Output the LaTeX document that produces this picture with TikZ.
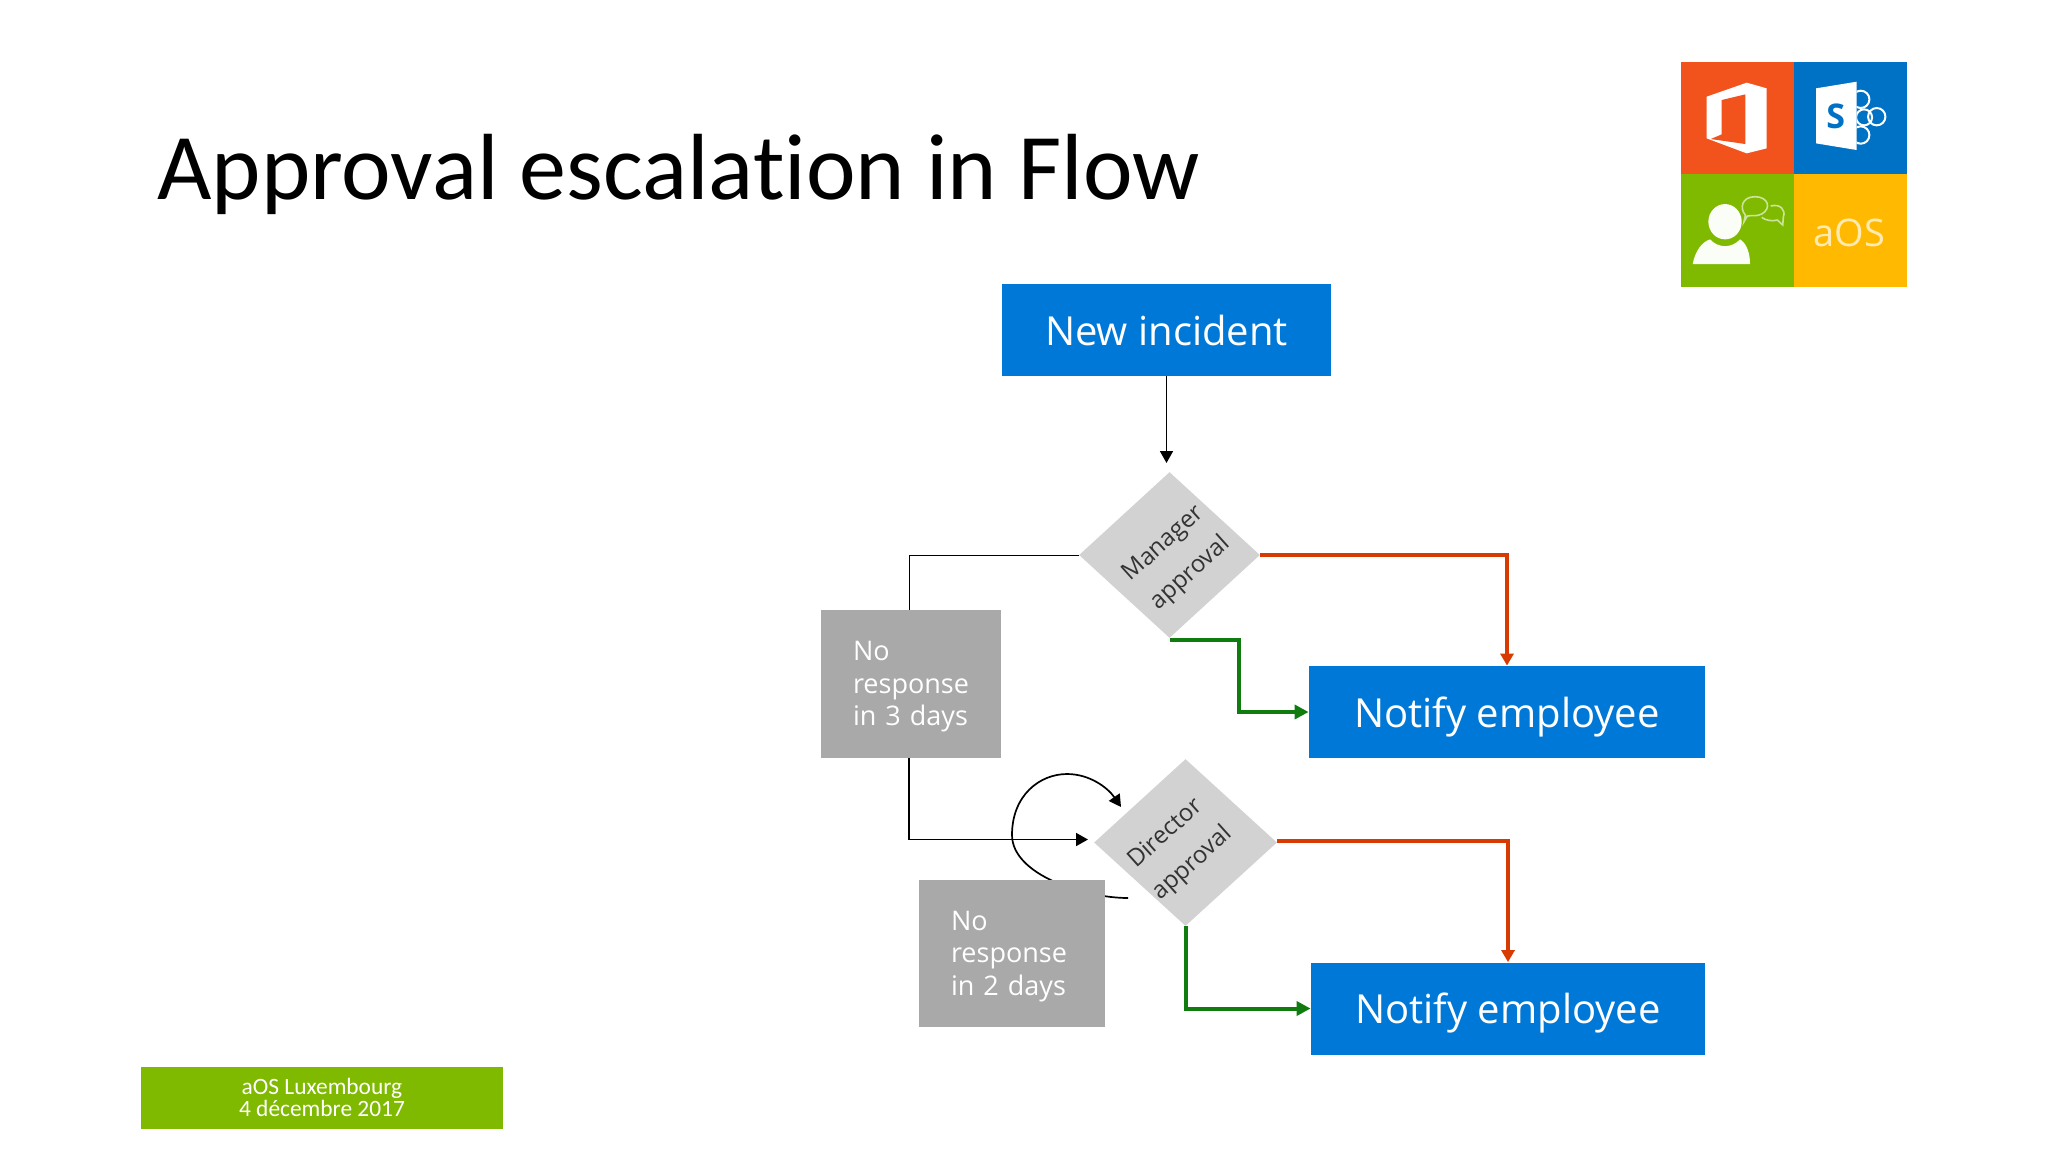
\documentclass[tikz,border=0pt]{standalone}
\usepackage{fontspec}
\setmainfont{Open Sans}
\newfontfamily\slidefont[Ligatures=NoCommon]{Carlito}
\usetikzlibrary{arrows.meta,shapes.geometric}

\definecolor{flowblue}{HTML}{0078D7}
\definecolor{waitgray}{HTML}{A9A9A9}
\definecolor{gategray}{HTML}{D2D2D2}
\definecolor{rejectred}{HTML}{D83B01}
\definecolor{acceptgreen}{HTML}{107C10}
\definecolor{footgreen}{HTML}{7FBA00}
\definecolor{logored}{HTML}{F2521C}
\definecolor{logoblue}{HTML}{0072C6}
\definecolor{logoyellow}{HTML}{FFB900}

\tikzset{
	bluebox/.style={fill=flowblue, text=white, inner sep=0pt, text depth=0pt, font=\fontsize{20}{24}\selectfont},
	waitbox/.style={fill=waitgray, text=white, inner ysep=0pt, inner xsep=16pt, align=left, font=\fontsize{13.5}{16.3}\selectfont, execute at begin node={\rule{0pt}{12.6pt}}},
	gate/.style={diamond, fill=gategray, inner sep=0pt},
	gatetext/.style={rotate=42, align=center, text=black!80, inner sep=0pt, font=\fontsize{12}{20}\selectfont},
	thinflow/.style={black, line width=0.5pt},
	flowarrow/.style={black, line width=0.85pt, -{Triangle[length=6pt,width=6.5pt]}},
	reject/.style={rejectred, line width=2pt, -{Triangle[length=6pt,width=6.5pt]}},
	accept/.style={acceptgreen, line width=2pt, -{Triangle[length=7pt,width=7pt]}},
}

\begin{document}
\begin{tikzpicture}[x=0.5pt, y=-0.5pt]
	\useasboundingbox (0,0) rectangle (2048,1152);

	\node[anchor=base west, inner sep=0pt, font=\slidefont\fontsize{47}{54}\selectfont] (title) at (157,199) {Approval escalation in Flow};

	\node[bluebox, minimum width=164.5pt, minimum height=46pt] (new) at (1166.5,330) {New incident};
	\node[bluebox, minimum width=198pt, minimum height=46pt] (notifya) at (1507,712) {Notify employee};
	\node[bluebox, minimum width=197pt, minimum height=46pt] (notifyb) at (1508,1008.5) {Notify employee};

	\node[gate, minimum width=90.5pt, minimum height=83pt] (manager) at (1169.5,555) {};
	\node[gatetext] (managertext) at (1177.5,559) {Manager\\approval};
	\node[gate, minimum width=91.5pt, minimum height=83.5pt] (director) at (1185.5,842.5) {};
	\node[gatetext] (directortext) at (1179.5,849) {Director\\approval};

	\node[waitbox, text width=58pt, minimum height=74pt] (noresponsea) at (911,684) {No\\response\\in 3 days};

	\coordinate (managertop) at (1170,463);
	\coordinate (directorleft) at (1088,839.5);
	\coordinate (loopstart) at (1128,898);
	\coordinate (loopend) at (1121,807);

	\draw[flowarrow] (new.south) -- (new.south |- managertop);
	\draw[thinflow] (manager.west) -| ([xshift=-1pt]noresponsea.north);
	\draw[flowarrow] ([xshift=-1pt]noresponsea.south) |- (directorleft);
	\draw[reject] (manager.east) -| (notifya.north);
	\draw[accept] ([yshift=-1pt]manager.south) -- ++(69,0) |- (notifya.west);
	\draw[reject] ([yshift=1pt]director.east) -| (notifyb.north);
	\draw[accept] (director.south) |- (notifyb.west);
	\draw[flowarrow] (loopstart) .. controls (1085,898) and (1012,875) .. (1012,835)
		.. controls (1012,795) and (1040,774) .. (1067,774)
		.. controls (1090,774) and (1108,788) .. (loopend);

	\node[waitbox, text width=61pt, minimum height=73.5pt] (noresponseb) at (1012,953.5) {No\\response\\in 2 days};

	\node[fill=footgreen, text=white, inner sep=0pt, minimum width=181pt, minimum height=31pt, align=center, font=\slidefont\fontsize{11.7}{11}\selectfont] (footer) at (322,1097.5) {aOS Luxembourg\\4 décembre 2017};

	% logo
	\fill[logored] (1681,62) rectangle (1794,174);
	\fill[logoblue] (1794,62) rectangle (1907,174);
	\fill[footgreen] (1681,174) rectangle (1794,287);
	\fill[logoyellow] (1794,174) rectangle (1907,287);
	\begin{scope}[shift={(1640,40)}, x=0.1667pt, y=-0.1667pt]
		\fill[white] (200,170) -- (320,128) -- (380,145) -- (380,325) -- (320,340) -- (200,295) -- cycle;
		\fill[logored] (245,180) -- (316,163) -- (316,312) -- (212,297) -- (245,283) -- cycle;
		\begin{scope}
			\clip (650,100) rectangle (760,340);
			\foreach \cx/\cy in {662/178, 710/230, 662/285} {
				\draw[white, line width=1pt, fill=logoblue] (\cx,\cy) circle (26);
			}
			\draw[white, line width=1pt] (672,232) circle (24);
		\end{scope}
		\fill[white] (528,145) -- (650,125) -- (650,330) -- (528,310) -- cycle;
		\node[text=logoblue, inner sep=0pt, font=\bfseries\fontsize{17}{17}\selectfont] (logos) at (587,228) {S};
		\fill[white!97!footgreen] (255,545) ellipse (50 and 53);
		\fill[white!97!footgreen] (158,672) .. controls (165,635) and (185,605) .. (210,598) .. controls (235,625) and (275,625) .. (300,598) .. controls (320,610) and (330,640) .. (330,672) -- cycle;
		\draw[footgreen!40!white, line width=0.8pt] (316,525) .. controls (298,505) and (305,470) .. (345,470) .. controls (385,470) and (395,505) .. (365,522) .. controls (350,530) and (335,525) .. (322,528) -- (312,545) -- cycle;
		\draw[footgreen!40!white, line width=0.8pt] (392,498) .. controls (420,490) and (438,510) .. (430,530) -- (428,555) -- (412,540) .. controls (395,545) and (375,540) .. (365,532);
		\node[text=logoyellow!30!white, inner sep=0pt, font=\fontsize{19}{19}\selectfont] (logotext) at (628,578) {aOS};
	\end{scope}
\end{tikzpicture}
\end{document}
